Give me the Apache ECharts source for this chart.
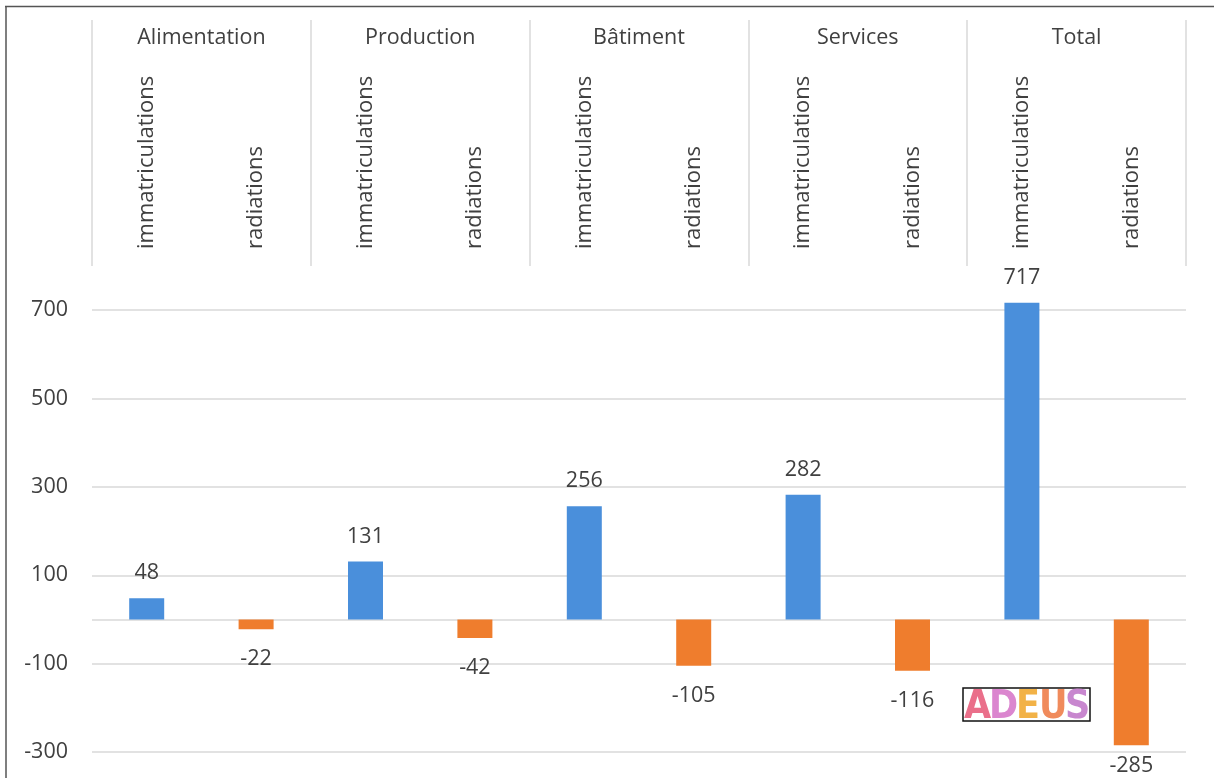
<!DOCTYPE html>
<html>
<head>
<meta charset="utf-8">
<script src="https://cdn.jsdelivr.net/npm/echarts@6/dist/echarts.min.js"></script>
<style>
html,body{margin:0;padding:0;background:#fff;}
#chart{width:1214px;height:778px;}
</style>
</head>
<body>
<div id="chart"></div>
<script>
// ---- data ----
var groups = ['Alimentation', 'Production', 'Bâtiment', 'Services', 'Total'];
var subLabels = ['immatriculations', 'radiations'];
var immatriculations = [48, 131, 256, 282, 717];
var radiations = [-22, -42, -105, -116, -285];
var yTickLabels = [700, 500, 300, 100, -100, -300];
var zeroLine = [0];

// ---- build ----
var cats = [];
var immData = [];
var radData = [];
groups.forEach(function (g, i) {
  cats.push(subLabels[0]);
  cats.push(subLabels[1]);
  immData.push(immatriculations[i]);
  immData.push(null);
  radData.push(null);
  radData.push(radiations[i]);
});
// last negative label sits closer (as in the original, kept inside the picture)
radData = radData.map(function (v, i) {
  if (v === null) return null;
  if (i === radData.length - 1) return { value: v, label: { distance: 10 } };
  return v;
});

var FONT = '"Open Sans", sans-serif';
var TXT = '#404040';
var GRID = '#d9d9d9';
var FS = 21.5;

var chart = echarts.init(document.getElementById('chart'));
var gridLines = yTickLabels.concat(zeroLine).map(function (v) { return { yAxis: v }; });

var logoLetters = [
  { t: 'A', c: '#ea6f8a', x: 964 },
  { t: 'D', c: '#db86cf', x: 989 },
  { t: 'E', c: '#f2b247', x: 1016 },
  { t: 'U', c: '#f08b5c', x: 1039 },
  { t: 'S', c: '#c887cf', x: 1065 }
];

var option = {
  backgroundColor: '#fff',
  animation: false,
  textStyle: { fontFamily: FONT },
  grid: { left: 92, right: 28, top: 266, bottom: 26, containLabel: false },
  xAxis: [
    {
      type: 'category',
      position: 'top',
      data: cats,
      axisLine: { show: false },
      axisTick: { show: false },
      axisLabel: {
        rotate: 90,
        margin: 17,
        color: TXT,
        fontSize: 22,
        fontFamily: FONT,
        interval: 0
      }
    },
    {
      type: 'category',
      position: 'top',
      data: groups,
      axisLine: { show: false },
      axisTick: { show: true, length: 246, lineStyle: { color: GRID, width: 1.5 } },
      axisLabel: {
        margin: 217,
        color: TXT,
        fontSize: FS,
        fontFamily: FONT,
        interval: 0
      }
    }
  ],
  yAxis: {
    type: 'value',
    min: -300,
    max: 800,
    interval: 100,
    axisLine: { show: false },
    axisTick: { show: false },
    splitLine: { show: false },
    axisLabel: {
      margin: 24,
      color: TXT,
      fontSize: FS,
      fontFamily: FONT,
      formatter: function (v) {
        return yTickLabels.indexOf(v) >= 0 ? String(v) : '';
      }
    }
  },
  series: [
    {
      name: 'immatriculations',
      type: 'bar',
      xAxisIndex: 0,
      data: immData,
      barWidth: 35,
      barGap: '-100%',
      itemStyle: { color: '#4a8fdb' },
      z: 3,
      label: {
        show: true,
        position: 'top',
        distance: 14,
        color: TXT,
        fontSize: FS,
        fontFamily: FONT
      },
      markLine: {
        silent: true,
        symbol: 'none',
        z: 1,
        label: { show: false },
        lineStyle: { color: GRID, width: 1.5, type: 'solid' },
        data: gridLines
      }
    },
    {
      name: 'radiations',
      type: 'bar',
      xAxisIndex: 0,
      data: radData,
      barWidth: 35,
      barGap: '-100%',
      itemStyle: { color: '#ef7d2d' },
      z: 3,
      label: {
        show: true,
        position: 'bottom',
        distance: 19,
        color: TXT,
        fontSize: FS,
        fontFamily: FONT
      }
    }
  ],
  graphic: [
    { type: 'line', shape: { x1: 5, y1: 6.5, x2: 1214, y2: 6.5 }, style: { stroke: '#555', lineWidth: 1.5 }, silent: true },
    { type: 'line', shape: { x1: 6, y1: 6, x2: 6, y2: 778 }, style: { stroke: '#555', lineWidth: 1.5 }, silent: true },
    {
      type: 'group',
      children: [
        { type: 'rect', shape: { x: 963, y: 688, width: 127, height: 33 }, style: { fill: '#fff', stroke: '#111', lineWidth: 1.5 }, z: 10 }
      ].concat(logoLetters.map(function (l) {
        return {
          type: 'text',
          x: l.x, y: 708,
          z: 11,
          style: {
            text: l.t,
            fill: l.c,
            font: 'bold 39px "DejaVu Sans Condensed", "DejaVu Sans", sans-serif',
            textVerticalAlign: 'middle',
            verticalAlign: 'middle'
          }
        };
      }))
    }
  ]
};
chart.setOption(option);
</script>
</body>
</html>
